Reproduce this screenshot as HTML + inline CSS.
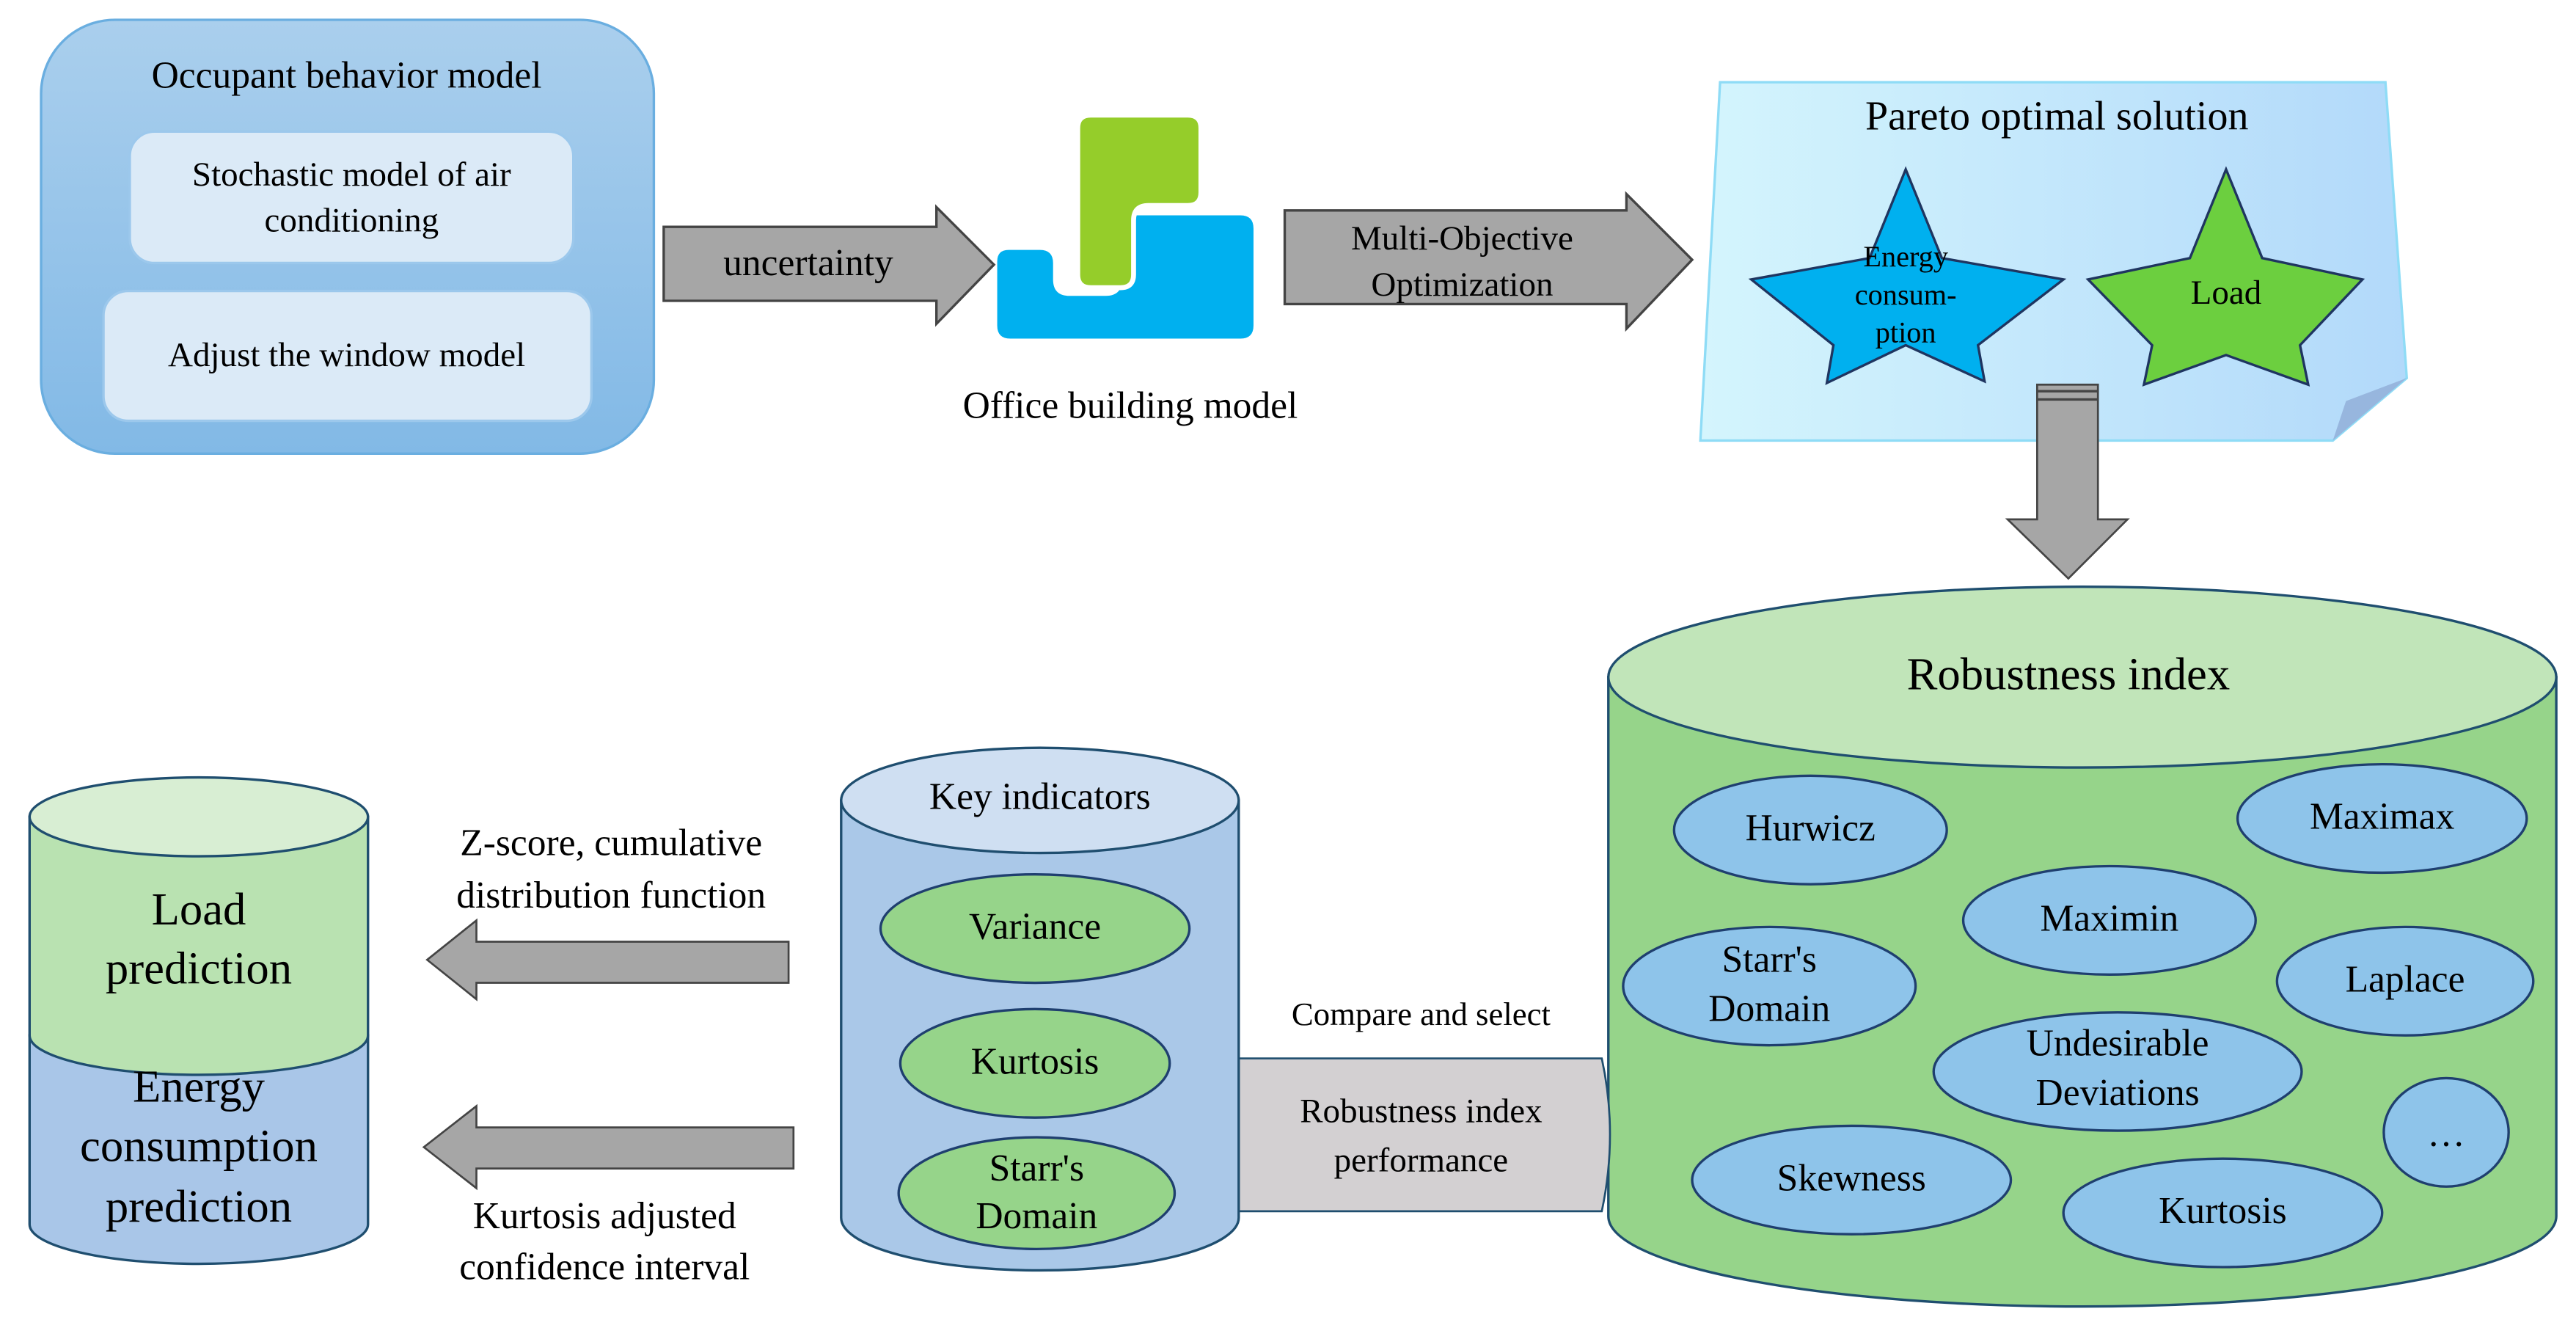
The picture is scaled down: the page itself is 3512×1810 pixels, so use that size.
<!DOCTYPE html>
<html><head><meta charset="utf-8"><style>
html,body{margin:0;padding:0;background:#fff}
svg{display:block}
text{font-family:"Liberation Serif","DejaVu Serif",serif;fill:#000;text-anchor:middle;dominant-baseline:middle}
</style></head><body>
<svg width="3512" height="1810" viewBox="0 0 1568 808" xmlns="http://www.w3.org/2000/svg" font-family="Liberation Serif, DejaVu Serif, serif">
<defs>
<linearGradient id="gOcc" x1="0" y1="0" x2="0" y2="1"><stop offset="0" stop-color="#aacfed"/><stop offset="1" stop-color="#82b9e6"/></linearGradient>
<linearGradient id="gPar" x1="0" y1="0" x2="1" y2="0"><stop offset="0" stop-color="#d4f5fd"/><stop offset="1" stop-color="#b2d9fa"/></linearGradient>
</defs>

<rect x="25" y="12" width="373" height="264" rx="45" fill="url(#gOcc)" stroke="#6aaee0" stroke-width="1.5"/>
<text x="211" y="48" font-size="23" font-family="Liberation Serif, serif">Occupant behavior model</text>
<rect x="79" y="80" width="270" height="80" rx="15" fill="#dbeaf7" stroke="#9cc8ec" stroke-width="1.5"/>
<text x="214" y="108" font-size="21" font-family="Liberation Serif, serif">Stochastic model of air</text>
<text x="214" y="136" font-size="21" font-family="Liberation Serif, serif">conditioning</text>
<rect x="63" y="177" width="297" height="79" rx="15" fill="#dbeaf7" stroke="#9cc8ec" stroke-width="1.5"/>
<text x="211" y="218" font-size="21" font-family="Liberation Serif, serif">Adjust the window model</text>

<polygon points="404,138 570,138 570,126 605,161 570,197 570,183 404,183" fill="#a6a6a6" stroke="#444" stroke-width="1.5"/>
<text x="492" y="162" font-size="23" font-family="Liberation Serif, serif">uncertainty</text>

<path d="M614,152 H633 Q641,152 641,160 V170 Q641,180 651,180 H673 Q683,180 683,170 V139 Q683,131 691,131 H755 Q763,131 763,139 V198 Q763,206 755,206 H615 Q607,206 607,198 V159 Q607,152 614,152 Z" fill="#00b0ef"/>
<path d="M664,70 H723 Q731,70 731,78 V117 Q731,125 723,125 H699 Q690,125 690,134 V167 Q690,175 682,175 H664 Q656,175 656,167 V78 Q656,70 664,70 Z" fill="#95cd2a" stroke="#fff" stroke-width="3"/>
<text x="688" y="249" font-size="23" font-family="Liberation Serif, serif">Office building model</text>

<polygon points="782,128 990,128 990,118 1030,158 990,200 990,185 782,185" fill="#a6a6a6" stroke="#444" stroke-width="1.5"/>
<text x="890" y="147" font-size="21" font-family="Liberation Serif, serif">Multi-Objective</text>
<text x="890" y="175" font-size="21" font-family="Liberation Serif, serif">Optimization</text>

<polygon points="1047,50 1452,50 1465,230 1420,268 1035,268" fill="url(#gPar)" stroke="#8fdcf6" stroke-width="1.5"/>
<polygon points="1420,268 1465,230 1428,244" fill="#97b6de"/>
<text x="1252" y="73" font-size="25" font-family="Liberation Serif, serif">Pareto optimal solution</text>
<polygon points="1160,103 1182,157 1256,170 1204,210 1208,232 1160,210 1112,233 1116,210 1066,170 1138,157" fill="#00b0ef" stroke="#1f3560" stroke-width="1.5"/>
<text x="1160" y="158" font-size="18" font-family="Liberation Serif, serif">Energy</text>
<text x="1160" y="181" font-size="18" font-family="Liberation Serif, serif">consum-</text>
<text x="1160" y="204" font-size="18" font-family="Liberation Serif, serif">ption</text>
<polygon points="1355,103 1377,157 1438,170 1400,210 1405,234 1355,216 1305,234 1310,210 1271,170 1333,157" fill="#6ccf3f" stroke="#1f3560" stroke-width="1.5"/>
<text x="1355" y="180" font-size="21" font-family="Liberation Serif, serif">Load</text>

<polygon points="1240,234 1277,234 1277,316 1295,316 1259,352 1222,316 1240,316" fill="#a6a6a6" stroke="#444" stroke-width="1.2"/>
<line x1="1240" y1="238" x2="1277" y2="238" stroke="#444" stroke-width="1.5"/>
<line x1="1240" y1="243" x2="1277" y2="243" stroke="#444" stroke-width="1.5"/>

<path d="M979,412 V740 A288.5,55 0 0 0 1556,740 V412 Z" fill="#96d48a" stroke="#1f4e6f" stroke-width="1.5"/>
<ellipse cx="1267.5" cy="412" rx="288.5" ry="55" fill="#c1e5b9" stroke="#1f4e6f" stroke-width="1.5"/>
<text x="1259" y="413" font-size="28" font-family="Liberation Serif, serif">Robustness index</text>
<g fill="#8ec4ea" stroke="#1f3f6f" stroke-width="1.5">
<ellipse cx="1102" cy="505" rx="83" ry="33"/>
<ellipse cx="1450" cy="498" rx="88" ry="33"/>
<ellipse cx="1284" cy="560" rx="89" ry="33"/>
<ellipse cx="1077" cy="600" rx="89" ry="36"/>
<ellipse cx="1464" cy="597" rx="78" ry="33"/>
<ellipse cx="1289" cy="652" rx="112" ry="36"/>
<ellipse cx="1489" cy="689" rx="38" ry="33"/>
<ellipse cx="1127" cy="718" rx="97" ry="33"/>
<ellipse cx="1353" cy="738" rx="97" ry="33"/>
</g>
<g font-size="23" font-family="Liberation Serif, serif">
<text x="1102" y="506">Hurwicz</text>
<text x="1450" y="499">Maximax</text>
<text x="1284" y="561">Maximin</text>
<text x="1077" y="586">Starr's</text>
<text x="1077" y="616">Domain</text>
<text x="1464" y="598">Laplace</text>
<text x="1289" y="637">Undesirable</text>
<text x="1289" y="667">Deviations</text>
<text x="1489" y="692">…</text>
<text x="1127" y="719">Skewness</text>
<text x="1353" y="739">Kurtosis</text>
</g>

<path d="M754,644 H975 Q985,690 975,737 H754 Z" fill="#d3d0d2" stroke="#1f4e6f" stroke-width="1.2"/>
<text x="865" y="678" font-size="21" font-family="Liberation Serif, serif">Robustness index</text>
<text x="865" y="708" font-size="21" font-family="Liberation Serif, serif">performance</text>
<text x="865" y="619" font-size="20" font-family="Liberation Serif, serif">Compare and select</text>

<path d="M512,487 V741 A121,32 0 0 0 754,741 V487 Z" fill="#aac8e8" stroke="#1f4e6f" stroke-width="1.5"/>
<ellipse cx="633" cy="487" rx="121" ry="32" fill="#cfdff2" stroke="#1f4e6f" stroke-width="1.5"/>
<text x="633" y="487" font-size="23" font-family="Liberation Serif, serif">Key indicators</text>
<g fill="#96d48a" stroke="#1f3f6f" stroke-width="1.5">
<ellipse cx="630" cy="565" rx="94" ry="33"/>
<ellipse cx="630" cy="647" rx="82" ry="33"/>
<ellipse cx="631" cy="726" rx="84" ry="34"/>
</g>
<g font-size="23" font-family="Liberation Serif, serif">
<text x="630" y="566">Variance</text>
<text x="630" y="648">Kurtosis</text>
<text x="631" y="713">Starr's</text>
<text x="631" y="742">Domain</text>
</g>

<path d="M18,630 V745 A103,24 0 0 0 224,745 V630 Z" fill="#a9c6e8" stroke="#1f4e6f" stroke-width="1.5"/>
<path d="M18,497 V630 A103,24 0 0 0 224,630 V497 Z" fill="#b9e2b1" stroke="#1f4e6f" stroke-width="1.5"/>
<ellipse cx="121" cy="497" rx="103" ry="24" fill="#d8eed3" stroke="#1f4e6f" stroke-width="1.5"/>
<g font-size="28" font-family="Liberation Serif, serif">
<text x="121" y="556">Load</text>
<text x="121" y="592">prediction</text>
<text x="121" y="664">Energy</text>
<text x="121" y="700">consumption</text>
<text x="121" y="737">prediction</text>
</g>

<polygon points="480,573 290,573 290,560 260,584 290,608 290,598 480,598" fill="#a6a6a6" stroke="#444" stroke-width="1.2"/>
<polygon points="483,686 290,686 290,673 258,698 290,723 290,711 483,711" fill="#a6a6a6" stroke="#444" stroke-width="1.2"/>
<g font-size="23" font-family="Liberation Serif, serif">
<text x="372" y="515">Z-score, cumulative</text>
<text x="372" y="547">distribution function</text>
<text x="368" y="742">Kurtosis adjusted</text>
<text x="368" y="773">confidence interval</text>
</g>
</svg>
</body></html>
